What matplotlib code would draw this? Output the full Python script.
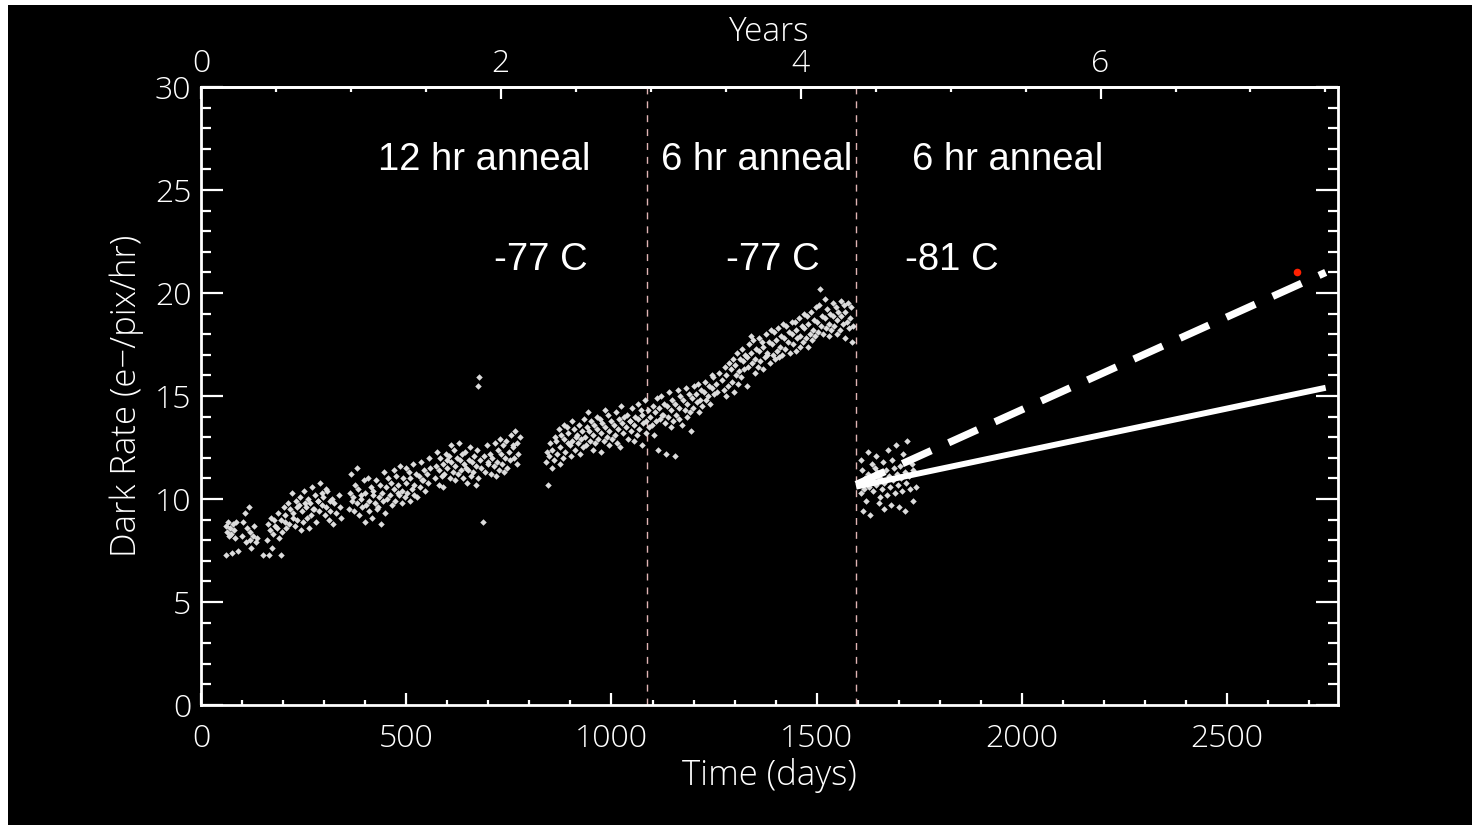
import matplotlib
matplotlib.use("Agg")
import matplotlib.pyplot as plt
from matplotlib.patches import Rectangle
from matplotlib.ticker import MultipleLocator, FixedLocator

# ---------------- data ----------------
# dark-rate measurements, grouped by day bin: day -> rates (e-/pix/hr)
bins_a = {60: [8.7, 8.4, 8.9, 8.2, 7.3], 70: [8.6, 8.3, 7.4, 8.8], 80: [8.5, 8.1, 8.9, 7.5],
          100: [8.2, 8.9, 9.3], 110: [7.9, 8.6, 9.6, 8.0], 120: [8.4, 7.6, 8.2],
          130: [8.7, 7.9, 8.1], 150: [7.3]}
bins_b = {160: [8.0, 8.8, 7.3], 168: [8.5, 9.1, 7.6], 175: [8.3, 9.0, 8.7], 185: [8.6, 9.3, 8.1, 7.3],
          195: [9.0, 8.4, 9.6, 8.9], 205: [9.2, 8.6, 9.8], 215: [8.8, 9.5, 10.3, 9.1],
          225: [9.3, 8.7, 9.9, 9.6], 235: [9.0, 9.7, 10.1, 8.5], 245: [9.4, 8.9, 10.4, 9.8],
          255: [9.6, 9.1, 10.0, 8.6], 265: [9.8, 9.2, 10.6, 9.5], 275: [9.5, 10.2, 8.9, 9.9],
          285: [9.9, 9.4, 10.8, 10.3], 295: [9.7, 10.1, 9.2, 10.5], 305: [9.6, 10.4, 9.0, 9.9],
          315: [9.4, 10.0, 8.8], 325: [9.8, 9.3], 335: [10.2, 9.6, 9.1]}
bins_c = {360: [9.5, 10.3, 11.2, 9.9], 370: [10.1, 9.4, 10.7, 11.5], 380: [9.8, 10.5, 9.2, 10.2],
          390: [10.0, 9.6, 10.9, 8.9], 400: [10.3, 9.7, 11.0, 9.4], 410: [9.9, 10.6, 9.1, 10.2],
          420: [10.4, 9.8, 10.9, 9.5], 430: [9.6, 10.1, 10.7, 8.8], 440: [10.3, 9.9, 11.3, 9.3],
          450: [10.6, 10.0, 11.0], 460: [10.2, 10.8, 9.7, 11.4], 470: [10.5, 9.9, 11.1, 10.3],
          480: [10.7, 10.2, 11.6, 9.8], 490: [10.4, 11.0, 10.1, 11.5], 500: [10.8, 10.3, 11.3, 9.9],
          510: [11.0, 10.5, 11.7, 10.2], 520: [10.7, 11.2, 10.1], 530: [11.1, 10.6, 11.8, 10.9],
          540: [10.9, 11.4, 10.4], 550: [11.2, 10.8, 12.0, 11.5]}
bins_d = {570: [11.0, 11.6, 12.3, 10.7], 580: [11.4, 12.0, 11.1, 10.6], 590: [11.7, 11.2, 12.2, 11.9],
          600: [11.5, 12.1, 11.0, 12.6], 610: [11.8, 11.3, 12.4, 10.9], 620: [11.6, 12.0, 11.2, 12.7],
          630: [11.9, 11.4, 12.2, 11.0], 640: [11.7, 12.3, 11.5, 10.8], 650: [11.4, 11.9, 12.5, 11.1],
          660: [11.8, 11.3, 12.1, 10.7], 670: [11.6, 12.4, 11.0], 675: [15.5, 15.9],
          680: [11.9, 11.5, 8.9], 690: [12.1, 11.3, 12.6, 11.8], 700: [11.7, 12.2, 11.2],
          710: [12.0, 11.6, 12.7, 11.1], 720: [11.8, 12.4, 11.4, 12.9], 730: [12.2, 11.7, 12.6, 11.3],
          740: [12.0, 12.8, 11.5], 750: [12.3, 11.9, 13.1, 12.6], 760: [12.5, 12.0, 13.3, 11.7],
          770: [12.7, 12.2, 13.0]}
bins_e = {840: [11.8, 12.3, 10.7], 848: [12.1, 12.7, 11.5], 856: [12.4, 11.9, 13.0],
          865: [12.8, 12.2, 13.4, 11.7], 875: [12.5, 13.1, 12.0, 13.6], 885: [12.9, 12.3, 13.5, 12.7],
          895: [13.2, 12.6, 12.1, 13.8], 905: [12.8, 13.4, 12.4, 13.0], 915: [13.1, 12.7, 13.6, 12.2],
          925: [12.9, 13.3, 12.5, 13.9], 935: [13.0, 12.6, 13.5, 14.2], 945: [13.3, 12.8, 13.8, 12.4],
          955: [13.1, 13.6, 12.7, 14.0], 965: [13.4, 12.9, 13.9, 12.3], 975: [13.2, 13.7, 12.8, 14.3],
          985: [13.5, 13.0, 14.1, 12.6], 995: [13.3, 13.8, 12.9], 1005: [13.6, 13.1, 14.2, 12.7],
          1015: [13.4, 13.9, 12.5, 14.5], 1025: [13.7, 13.2, 14.0], 1035: [13.5, 14.1, 12.9, 13.8],
          1045: [13.8, 13.3, 14.4, 12.8], 1055: [13.6, 14.0, 13.1, 14.6], 1065: [13.9, 13.4, 14.3, 12.6],
          1075: [14.1, 13.7, 14.8, 13.2], 1085: [13.8, 14.3, 13.5]}
bins_f = {1095: [14.0, 13.6, 14.5, 13.1], 1105: [14.2, 13.8, 14.9, 12.4], 1115: [14.4, 13.9, 15.0, 14.1],
          1125: [14.1, 14.6, 13.7, 12.2], 1135: [14.5, 14.0, 15.2, 13.5], 1145: [14.3, 14.8, 13.8, 12.1],
          1155: [14.6, 14.1, 15.3, 13.9], 1165: [14.4, 15.0, 13.6], 1175: [14.8, 14.3, 15.4, 14.0],
          1185: [14.6, 15.1, 14.2, 13.3], 1195: [14.9, 14.4, 15.5], 1205: [15.1, 14.7, 15.6, 14.2],
          1215: [14.8, 15.3, 14.5], 1225: [15.2, 15.7, 14.8], 1235: [15.0, 15.5, 14.6, 16.0],
          1245: [15.4, 15.9, 15.1], 1255: [15.6, 15.2, 16.1]}
bins_g = {1270: [15.8, 15.3, 16.4, 15.0], 1280: [16.0, 15.5, 16.6], 1290: [16.3, 15.7, 16.8, 15.2],
          1300: [16.5, 16.0, 17.1, 15.6], 1310: [16.2, 16.8, 15.9, 17.3], 1320: [16.7, 16.3, 17.0, 15.5],
          1330: [16.9, 16.4, 17.5, 17.9], 1340: [17.1, 16.6, 17.7, 16.1], 1350: [16.8, 17.3, 16.4, 17.8],
          1360: [17.2, 16.7, 17.6, 16.3], 1370: [17.4, 16.9, 18.0, 17.0], 1380: [17.1, 17.6, 16.6, 18.2],
          1390: [17.5, 17.0, 18.1, 16.8], 1400: [17.7, 17.2, 18.3, 16.9], 1410: [17.4, 17.9, 17.0, 18.5],
          1420: [17.8, 17.3, 18.4], 1430: [17.6, 18.1, 17.1, 18.6]}
bins_h = {1440: [18.0, 17.5, 18.6, 17.2], 1450: [18.2, 17.8, 18.8, 17.4], 1460: [17.9, 18.4, 17.6, 19.0],
          1470: [18.3, 17.8, 18.9, 17.4], 1480: [18.5, 18.0, 19.1, 17.7], 1490: [18.2, 18.7, 17.9, 19.3],
          1500: [18.6, 18.1, 19.4, 20.2], 1510: [18.4, 18.9, 18.0, 19.7], 1520: [18.8, 18.3, 19.2, 17.9],
          1530: [18.5, 19.0, 18.2, 19.5], 1540: [18.9, 18.4, 19.3, 18.0], 1550: [18.7, 19.1, 18.2, 19.6],
          1560: [18.9, 18.5, 19.4, 17.8], 1570: [19.1, 18.6, 19.5, 18.3], 1580: [18.8, 19.3, 17.6, 18.4]}
bins_i = {1605: [10.8, 10.3, 11.4, 9.4, 11.9], 1615: [10.5, 11.0, 9.9, 12.3], 1625: [11.2, 10.6, 9.2, 11.7],
          1635: [10.9, 10.4, 11.5, 12.1], 1645: [10.7, 11.3, 9.8, 10.1], 1655: [11.0, 10.5, 11.8, 9.5],
          1665: [10.8, 11.4, 10.2, 12.4], 1675: [11.1, 10.6, 9.7, 11.9], 1685: [10.9, 11.5, 10.3, 12.6],
          1695: [11.2, 10.7, 9.6, 11.6], 1705: [11.0, 10.4, 12.2, 9.4], 1715: [11.3, 10.8, 12.8],
          1725: [11.1, 10.5, 11.7, 9.9], 1735: [11.4, 12.0, 10.6]}

anneal_days = [1087, 1596]                 # vertical dashed markers
trend_days = [1596, 2740]
trend_solid = [10.6, 15.4]
trend_dashed = [10.7, 21.0]
red_point_day = [2670]
red_point_rate = [21.0]

year_ticks = [0, 2, 4, 6]

labels_top = ["12 hr anneal", "6 hr anneal", "6 hr anneal"]
labels_top_x = [431, 1121, 1732]
labels_temp = ["-77 C", "-77 C", "-81 C"]
labels_temp_x = [714, 1279, 1715]

# ---------------- figure ----------------
W, H = 1472, 825
fig = plt.figure(figsize=(W / 100, H / 100), dpi=100)
fig.patch.set_facecolor("white")
fig.add_artist(Rectangle((8 / W, 0), 1, (H - 5) / H, transform=fig.transFigure,
                         facecolor="black", edgecolor="none", zorder=0))

ax = fig.add_axes([201 / W, 1 - 705 / H, (1338 - 201) / W, (705 - 87) / H])
ax.set_facecolor("black")

tick_family = ["Open Sans", "DejaVu Sans"]
tick_weight = "light"
tick_size = 23
label_size = 25

spread = [0, 3, 6, 9, 2]
xs, ys = [], []
for b in (bins_a, bins_b, bins_c, bins_d, bins_e, bins_f, bins_g, bins_h, bins_i):
    for d, rates in b.items():
        for k, r in enumerate(rates):
            xs.append(d + spread[k % len(spread)])
            ys.append(r)
ax.scatter(xs, ys, s=11, marker="D", color="#dcdcdc", linewidths=0, zorder=3)

for d in anneal_days:
    ax.axvline(d, color="#e0b4b4", lw=1.0, dashes=(5, 5), zorder=2)

ax.plot(trend_days, trend_solid, color="white", lw=4.3, solid_capstyle="butt", zorder=4)
ax.plot(trend_days, trend_dashed, color="white", lw=5.3, dashes=(4.3, 2.6),
        dash_capstyle="butt", zorder=4)
ax.scatter(red_point_day, red_point_rate, s=30, color="#ff2000", linewidths=0, zorder=5)

for t, x in zip(labels_top, labels_top_x):
    ax.text(x, 25.95, t, color="white", fontsize=27.5, family="Liberation Sans",
            ha="left", va="baseline")
for t, x in zip(labels_temp, labels_temp_x):
    ax.text(x, 21.1, t, color="white", fontsize=27.5, family="Liberation Sans",
            ha="left", va="baseline")

ax.set_xlim(0, 2770)
ax.set_ylim(0, 30)

for s in ax.spines.values():
    s.set_color("white")
    s.set_linewidth(2)

ax.xaxis.set_major_locator(MultipleLocator(500))
ax.xaxis.set_minor_locator(MultipleLocator(100))
ax.yaxis.set_major_locator(MultipleLocator(5))
ax.yaxis.set_minor_locator(MultipleLocator(1))
ax.tick_params(axis="x", which="major", direction="in", length=8.5, width=1.6,
               colors="white", labelsize=tick_size, pad=13, bottom=True, top=False)
ax.tick_params(axis="x", which="minor", direction="in", length=3.8, width=1.6,
               colors="white", bottom=True, top=False)
ax.tick_params(axis="y", which="major", direction="in", length=15.8, width=1.6,
               colors="white", labelsize=tick_size, pad=7, left=True, right=True)
ax.tick_params(axis="y", which="minor", direction="in", length=7.2, width=1.6,
               colors="white", left=True, right=True)
for lab in ax.get_xticklabels() + ax.get_yticklabels():
    lab.set_family(tick_family)
    lab.set_weight(tick_weight)

ax.set_xlabel("Time (days)", color="white", fontsize=label_size, labelpad=2,
              family=tick_family, weight=tick_weight)
ax.set_ylabel("Dark Rate (e\u2212/pix/hr)", color="white", fontsize=label_size, labelpad=8,
              family=tick_family, weight=tick_weight)

sec = ax.secondary_xaxis("top", functions=(lambda d: d / 365.25, lambda y: y * 365.25))
sec.xaxis.set_major_locator(FixedLocator(year_ticks))
sec.xaxis.set_minor_locator(MultipleLocator(0.5))
sec.tick_params(axis="x", which="major", direction="in", length=8.5, width=1.6,
                colors="white", labelsize=tick_size, pad=5)
sec.tick_params(axis="x", which="minor", direction="in", length=3.8, width=1.6, colors="white")
sec.spines["top"].set_color("white")
sec.spines["top"].set_linewidth(2)
for lab in sec.get_xticklabels():
    lab.set_family(tick_family)
    lab.set_weight(tick_weight)
fig.text(769 / W, 1 - 32 / H, "Years", color="white", fontsize=label_size - 1,
         family=tick_family, weight=tick_weight, ha="center", va="center")

fig.savefig("out.png", dpi=100, facecolor=fig.get_facecolor())
